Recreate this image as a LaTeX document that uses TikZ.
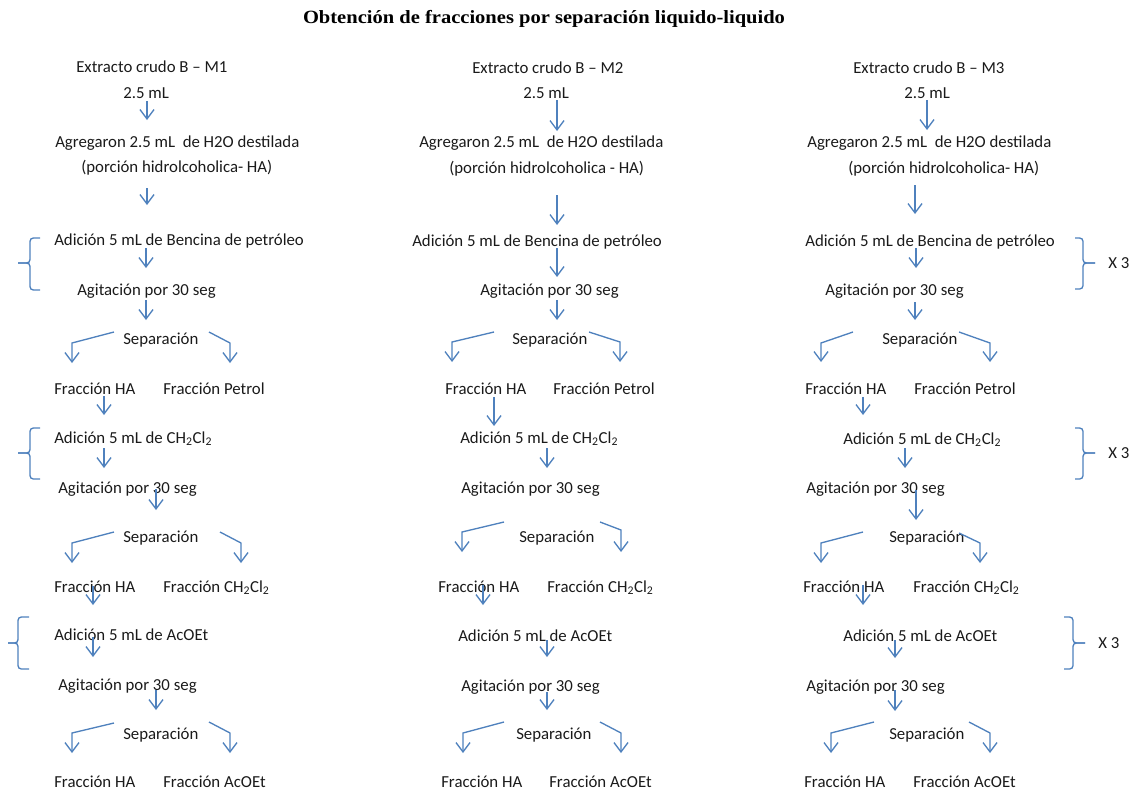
\documentclass[tikz,border=0pt]{standalone}
\usepackage{fontspec}
\setmainfont{Carlito}
\newfontfamily\titlefont[FakeStretch=1.1]{Liberation Serif}
\usetikzlibrary{arrows.meta}
\definecolor{flowblue}{HTML}{4F81BD}
\definecolor{inkgray}{HTML}{1A1A1A}

\begin{document}
\begin{tikzpicture}[
        x=0.75pt, y=-0.75pt,
        txt/.style={anchor=base west, inner sep=0pt, text=inkgray, font=\fontsize{12.6}{15}\selectfont},
        arrow/.style={draw=flowblue, line width=1pt, -{Straight Barb[length=7pt, width=10.5pt]}},
        brace/.style={draw=flowblue, line width=1pt, rounded corners=2.5pt}
    ]
        \useasboundingbox (0,0) rectangle (1132,789);

        % title
        \node[anchor=base, inner sep=0pt, font=\titlefont\bfseries\fontsize{14}{16}\selectfont] (title) at (544,23)
            {Obtención de fracciones por separación liquido-liquido};

        % column M1
        \node[txt] (ext1) at (76,72) {Extracto crudo B – M1};
        \node[txt] (ml1) at (123,98) {2.5 mL};
        \node[txt] (agr1) at (55,147) {Agregaron 2.5 mL\ \ de H2O destilada};
        \node[txt] (por1) at (81,172) {(porción hidrolcoholica- HA)};
        \node[txt] (pet1) at (54,245) {Adición 5 mL de Bencina de petróleo};
        \node[txt] (agi1a) at (77,295) {Agitación por 30 seg};
        \node[txt] (sep1a) at (123,344) {Separación};
        \node[txt] (fha1a) at (54,394) {Fracción HA};
        \node[txt] (fpe1) at (163,394) {Fracción Petrol};
        \node[txt] (dcm1) at (54,443) {Adición 5 mL de CH\textsubscript{2}Cl\textsubscript{2}};
        \node[txt] (agi1b) at (58,493) {Agitación por 30 seg};
        \node[txt] (sep1b) at (123,542) {Separación};
        \node[txt] (fha1b) at (54,592) {Fracción HA};
        \node[txt] (fdc1) at (163,592) {Fracción CH\textsubscript{2}Cl\textsubscript{2}};
        \node[txt] (ace1) at (54,640) {Adición 5 mL de AcOEt};
        \node[txt] (agi1c) at (58,690) {Agitación por 30 seg};
        \node[txt] (sep1c) at (123,739) {Separación};
        \node[txt] (fha1c) at (54,787) {Fracción HA};
        \node[txt] (fac1) at (163,787) {Fracción AcOEt};

        % column M2
        \node[txt] (ext2) at (472,73) {Extracto crudo B – M2};
        \node[txt] (ml2) at (523,98) {2.5 mL};
        \node[txt] (agr2) at (419,147) {Agregaron 2.5 mL\ \ de H2O destilada};
        \node[txt] (por2) at (449,173) {(porción hidrolcoholica - HA)};
        \node[txt] (pet2) at (412,246) {Adición 5 mL de Bencina de petróleo};
        \node[txt] (agi2a) at (480,295) {Agitación por 30 seg};
        \node[txt] (sep2a) at (512,344) {Separación};
        \node[txt] (fha2a) at (445,394) {Fracción HA};
        \node[txt] (fpe2) at (553,394) {Fracción Petrol};
        \node[txt] (dcm2) at (460,443) {Adición 5 mL de CH\textsubscript{2}Cl\textsubscript{2}};
        \node[txt] (agi2b) at (461,493) {Agitación por 30 seg};
        \node[txt] (sep2b) at (519,542) {Separación};
        \node[txt] (fha2b) at (438,592) {Fracción HA};
        \node[txt] (fdc2) at (547,592) {Fracción CH\textsubscript{2}Cl\textsubscript{2}};
        \node[txt] (ace2) at (458,641) {Adición 5 mL de AcOEt};
        \node[txt] (agi2c) at (461,691) {Agitación por 30 seg};
        \node[txt] (sep2c) at (516,739) {Separación};
        \node[txt] (fha2c) at (441,787) {Fracción HA};
        \node[txt] (fac2) at (549,787) {Fracción AcOEt};

        % column M3
        \node[txt] (ext3) at (853,73) {Extracto crudo B – M3};
        \node[txt] (ml3) at (904,98) {2.5 mL};
        \node[txt] (agr3) at (807,147) {Agregaron 2.5 mL\ \ de H2O destilada};
        \node[txt] (por3) at (848,173) {(porción hidrolcoholica- HA)};
        \node[txt] (pet3) at (805,246) {Adición 5 mL de Bencina de petróleo};
        \node[txt] (agi3a) at (825,295) {Agitación por 30 seg};
        \node[txt] (sep3a) at (882,344) {Separación};
        \node[txt] (fha3a) at (805,394) {Fracción HA};
        \node[txt] (fpe3) at (914,394) {Fracción Petrol};
        \node[txt] (dcm3) at (843,444) {Adición 5 mL de CH\textsubscript{2}Cl\textsubscript{2}};
        \node[txt] (agi3b) at (806,493) {Agitación por 30 seg};
        \node[txt] (sep3b) at (889,542) {Separación};
        \node[txt] (fha3b) at (803,592) {Fracción HA};
        \node[txt] (fdc3) at (913,592) {Fracción CH\textsubscript{2}Cl\textsubscript{2}};
        \node[txt] (ace3) at (843,641) {Adición 5 mL de AcOEt};
        \node[txt] (agi3c) at (806,691) {Agitación por 30 seg};
        \node[txt] (sep3c) at (889,739) {Separación};
        \node[txt] (fha3c) at (804,787) {Fracción HA};
        \node[txt] (fac3) at (913,787) {Fracción AcOEt};

        % repeat marks
        \node[txt] (rep1) at (1108,268) {X 3};
        \node[txt] (rep2) at (1108,458) {X 3};
        \node[txt] (rep3) at (1098,648) {X 3};

        % straight arrows: name/x/top/bottom
        \foreach \n/\x/\ya/\yb in {
                d1a/147/101/120, d1b/147/188/205, d1c/146/248/268, d1d/146/300/320,
                d1e/104/396/415, d1f/104/448/468, d1g/156/489/510, d1h/93/586/605,
                d1i/93/637/657, d1j/156/690/710,
                d2a/557/100/131, d2b/557/195/225, d2c/557/248/277, d2d/557/300/320,
                d2e/494/397/426, d2f/547/448/468, d2g/483/585/605, d2h/547/640/657,
                d2i/547/692/710,
                d3a/927/100/130, d3b/915/185/214, d3c/916/248/268, d3d/915/302/320,
                d3e/863/397/415, d3f/905/448/468, d3g/916/490/520, d3h/863/585/605,
                d3i/895/640/658, d3j/895/690/711} {
            \coordinate (\n-s) at (\x,\ya);
            \coordinate (\n-e) at (\x,\yb);
            \draw[arrow] (\n-s) -- (\n-e);
        }

        % split arrows after each separation: name/start/bend/end
        \foreach \n/\xa/\ya/\xb/\yb/\yc in {
                s1a/114/332/72/343/363, s1b/209/332/230/343/363,
                s1c/114/532/72/543/563, s1d/220/532/241/543/563,
                s1e/114/723/72/733/753, s1f/209/722/230/733/753,
                s2a/494/332/452/342/362, s2b/589/332/620/342/362,
                s2c/504/522/462/532/552, s2d/600/522/621/530/552,
                s2e/504/722/463/733/753, s2f/600/722/621/733/753,
                s3a/853/332/821/343/362, s3b/959/332/990/343/362,
                s3c/863/532/821/543/563, s3d/959/533/980/543/563,
                s3e/874/722/831/733/753, s3f/969/722/990/733/753} {
            \coordinate (\n-s) at (\xa,\ya);
            \coordinate (\n-b) at (\xb,\yb);
            \coordinate (\n-e) at (\xb,\yc);
            \draw[arrow] (\n-s) -- (\n-b) -- (\n-e);
        }

        % braces: stub x/spine x/tip x/top/middle/bottom
        \foreach \xs/\xv/\xt/\yt/\ym/\yb in {
                40/30/18/238/263/290, 40/30/18/428/453/479, 29/18/8/617/643/669,
                1075/1083/1095/238/263/289, 1075/1083/1095/428/453/479,
                1064/1073/1085/617/643/669} {
            \draw[brace] (\xs,\yt) -- (\xv,\yt) -- (\xv,\ym) -- (\xt,\ym);
            \draw[brace] (\xt,\ym) -- (\xv,\ym) -- (\xv,\yb) -- (\xs,\yb);
        }
    \end{tikzpicture}
\end{document}
